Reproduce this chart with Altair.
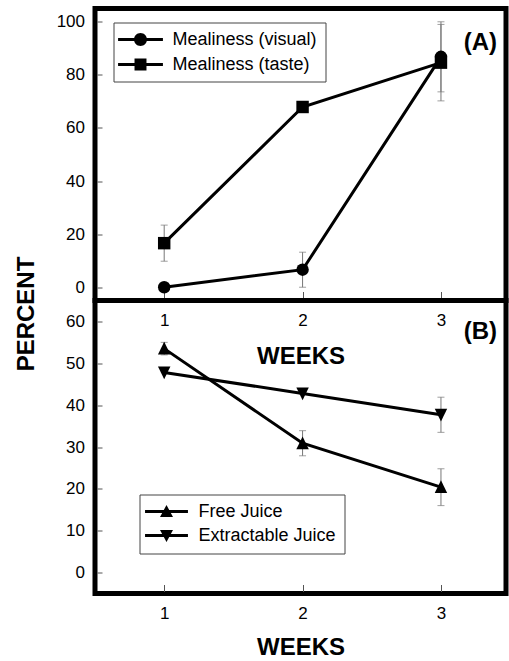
import altair as alt
import pandas as pd

# ---------------- data ----------------
weeks = [1, 2, 3]
x_ticks = [1, 2, 3]

series_a = ["Mealiness (visual)", "Mealiness (taste)"]
visual = [0.0, 6.6, 86.8]
visual_err = [0.0, 6.6, 13.2]
taste = [16.6, 67.9, 84.6]
taste_err = [6.8, 0.0, 14.4]
ya_ticks = [0, 20, 40, 60, 80, 100]

series_b = ["Free Juice", "Extractable Juice"]
free = [53.5, 30.9, 20.4]
free_err = [1.5, 3.0, 4.4]
extr = [47.8, 42.8, 37.7]
extr_err = [0.0, 0.0, 4.2]
yb_ticks = [0, 10, 20, 30, 40, 50, 60]

FONT = "Liberation Sans"


def make_frame(names, vals, errs):
    rows = []
    for name, v, e in zip(names, vals, errs):
        for w, vi, ei in zip(weeks, v, e):
            rows.append({"week": w, "value": vi, "err": ei,
                         "lo": vi - ei, "hi": vi + ei, "series": name})
    return pd.DataFrame(rows)


df_a = make_frame(series_a, [visual, taste], [visual_err, taste_err])
df_b = make_frame(series_b, [free, extr], [free_err, extr_err])

# marker shapes for data points
TRI_UP = "M0,-1.1L1,0.95L-1,0.95Z"
TRI_DOWN = "M0,1.1L1,-0.95L-1,-0.95Z"
# legend symbols: a short bar (the line) plus the marker, all filled, same winding
BAR_A = "M-3.45,-0.23H3.45V0.23H-3.45Z"
BAR_B = "M-3.3,-0.23H3.3V0.23H-3.3Z"
LEG_CIRCLE = BAR_A + "M1,0A1,1,0,1,1,-1,0A1,1,0,1,1,1,0Z"
LEG_SQUARE = BAR_A + "M-0.92,-0.92H0.92V0.92H-0.92Z"
LEG_TUP = BAR_B + "M0,-1L1,0.85L-1,0.85Z"
LEG_TDOWN = BAR_B + "M0,1L-1,-0.85L1,-0.85Z"

W = 411


def panel(df, names, ydomain, yticks, height, point_shapes, legend_shapes,
          leg_x, leg_y, tag, tag_dy, ytitle, x_title_pad):
    x = alt.X("week:Q",
              scale=alt.Scale(domain=[0.5, 3.47], nice=False, zero=False),
              axis=alt.Axis(values=x_ticks, format="d", domain=False, grid=False,
                            offset=-9, tickSize=7, tickColor="#555",
                            labelPadding=14, labelFontSize=17, labelFont=FONT,
                            labelColor="black",
                            title="WEEKS", titleFontSize=24, titleFont=FONT,
                            titleFontWeight="bold", titleColor="black",
                            titlePadding=x_title_pad))
    yaxis_kwargs = dict(values=yticks, format="d", domain=False, grid=False,
                        offset=-7, tickSize=5, tickColor="#555",
                        labelPadding=12.5, labelFontSize=17, labelFont=FONT,
                        labelColor="black")
    if ytitle:
        yaxis_kwargs.update(title="PERCENT", titleFontSize=24, titleFont=FONT,
                            titleFontWeight="bold", titleColor="black",
                            titleAngle=270, titleAlign="center",
                            titleBaseline="middle", titleX=-75.5, titleY=305)
    else:
        yaxis_kwargs.update(title=None)
    y = alt.Y("value:Q", scale=alt.Scale(domain=ydomain, nice=False, zero=False),
              axis=alt.Axis(**yaxis_kwargs))

    base = alt.Chart(df)
    err = base.transform_filter("datum.err > 0")
    bars = err.mark_rule(color="#777", strokeWidth=1).encode(
        x="week:Q", y="lo:Q", y2="hi:Q")
    cap_lo = err.mark_tick(color="#777", orient="horizontal", size=7,
                           thickness=1).encode(x="week:Q", y="lo:Q")
    cap_hi = err.mark_tick(color="#777", orient="horizontal", size=7,
                           thickness=1).encode(x="week:Q", y="hi:Q")
    lines = base.mark_line(color="black", strokeWidth=3).encode(
        x=x, y=y, detail="series:N")
    pts = base.mark_point(filled=True, color="black", opacity=1).encode(
        x="week:Q", y="value:Q",
        shape=alt.Shape("series:N", scale=alt.Scale(domain=names, range=point_shapes),
                        legend=None),
        size=alt.value(155))
    leg = base.mark_point(filled=True, color="black", opacity=0).encode(
        x="week:Q", y="value:Q",
        shape=alt.Shape("series:N",
                        scale=alt.Scale(domain=names, range=legend_shapes),
                        legend=alt.Legend(title=None, orient="none",
                                          legendX=leg_x, legendY=leg_y,
                                          symbolSize=169,
                                          symbolFillColor="black",
                                          symbolOpacity=1,
                                          labelFont=FONT, labelFontSize=18,
                                          labelColor="black", labelLimit=300,
                                          padding=8, rowPadding=6,
                                          symbolOffset=10, labelOffset=23,
                                          strokeColor="#444", fillColor="white")))
    return alt.layer(bars, cap_lo, cap_hi, lines, pts, leg).resolve_scale(
        shape="independent").properties(
        width=W, height=height,
        title=alt.Title(tag, anchor="end", orient="top", frame="group",
                        fontSize=24, fontWeight="bold", font=FONT, color="black",
                        baseline="top", offset=0, dx=-9, dy=tag_dy))


top = panel(df_a, series_a, [-5, 105], ya_ticks, 292,
            ["circle", "square"], [LEG_CIRCLE, LEG_SQUARE],
            18.5, 14, "(A)", 46, True, 16)
bottom = panel(df_b, series_b, [-5, 65], yb_ticks, 293,
               [TRI_UP, TRI_DOWN], [LEG_TUP, LEG_TDOWN],
               44.5, 194, "(B)", 43, False, 14)

chart = alt.vconcat(top, bottom, spacing=0, bounds="flush").properties(
    padding={"left": 12, "top": 5.5, "right": 0, "bottom": 0}).configure(
    font=FONT).configure_view(stroke="black", strokeWidth=5)

chart.save("out.html", embed_options={"renderer": "svg", "actions": False})
